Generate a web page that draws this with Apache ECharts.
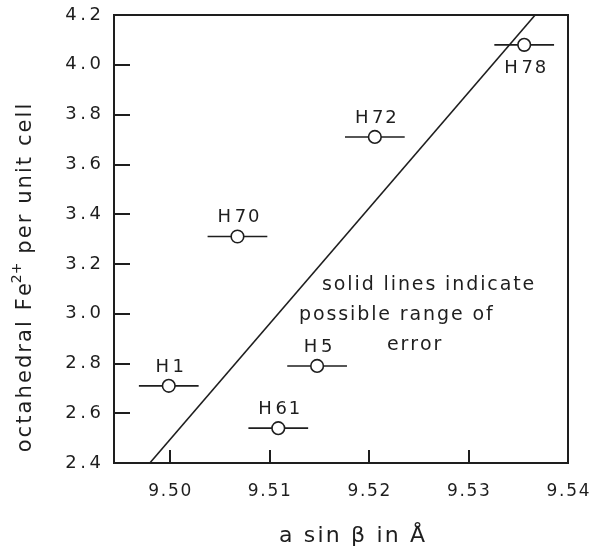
<!DOCTYPE html>
<html>
<head>
<meta charset="utf-8">
<script src="https://cdn.jsdelivr.net/npm/echarts@6/dist/echarts.min.js"></script>
<style>
html,body{margin:0;padding:0;background:#fff;}
#main{width:598px;height:557px;}
</style>
</head>
<body>
<div id="main"></div>
<script>
// ---- data ----
const sampleNames = ['H1', 'H5', 'H61', 'H70', 'H72', 'H78'];
const aSinBeta    = [9.4999, 9.5148, 9.5109, 9.5068, 9.5206, 9.5356];
const octFe2      = [2.71, 2.79, 2.54, 3.31, 3.71, 4.08];
const aSinBetaErr = [0.003, 0.003, 0.003, 0.003, 0.003, 0.003];
const trendLineX  = [9.4980, 9.5367];
const trendLineY  = [2.40, 4.20];
const xTickValues = [9.50, 9.51, 9.52, 9.53, 9.54];
const yTickValues = [2.4, 2.6, 2.8, 3.0, 3.2, 3.4, 3.6, 3.8, 4.0, 4.2];
const noteLines   = ['solid lines indicate', 'possible range of', 'error'];

const INK = '#1e1e1e';
const FONT = 'DejaVu Sans';
const HAIR = '\u200A', THIN = '\u2009';
const spread = (s, gap) => s.split('').join(gap);

const chart = echarts.init(document.getElementById('main'), null, {renderer: 'canvas'});

const pts = sampleNames.map((n, i) => [aSinBeta[i], octFe2[i], aSinBetaErr[i], n]);

const option = {
  backgroundColor: '#fff',
  animation: false,
  grid: {left: 114, top: 15, right: 30, bottom: 94, show: true, borderColor: INK, borderWidth: 2, backgroundColor: 'transparent'},
  xAxis: {
    type: 'value', min: 9.4944, max: 9.54,
    axisLine: {show: true, lineStyle: {color: INK, width: 2}},
    splitLine: {show: false},
    axisTick: {show: true, inside: true, length: 13, lineStyle: {color: INK, width: 2}, customValues: xTickValues.slice(0, 4)},
    axisLabel: {customValues: xTickValues, formatter: v => spread(v.toFixed(2), HAIR), color: INK, fontFamily: FONT, fontSize: 17, margin: 20, showMinLabel: true, showMaxLabel: true}
  },
  yAxis: {
    type: 'value', min: 2.4, max: 4.2, interval: 0.2,
    axisLine: {show: true, lineStyle: {color: INK, width: 2}},
    splitLine: {show: false},
    axisTick: {show: true, inside: true, length: 16, lineStyle: {color: INK, width: 2}, customValues: yTickValues.slice(1, -1)},
    axisLabel: {customValues: yTickValues, formatter: v => spread(v.toFixed(1), THIN), color: INK, fontFamily: FONT, fontSize: 18, margin: 13}
  },
  series: [
    {
      type: 'line',
      data: trendLineX.map((x, i) => [x, trendLineY[i]]),
      showSymbol: false, symbol: 'none',
      lineStyle: {color: INK, width: 1.6},
      clip: true, z: 2
    },
    {
      type: 'custom',
      data: pts,
      z: 3,
      renderItem: function (params, api) {
        const x = api.value(0), y = api.value(1), e = api.value(2);
        const name = pts[params.dataIndex][3];
        const c = api.coord([x, y]);
        const l = api.coord([x - e, y]);
        const r = api.coord([x + e, y]);
        const below = name === 'H78';
        return {
          type: 'group',
          children: [
            {type: 'line', shape: {x1: l[0], y1: l[1], x2: r[0], y2: r[1]}, style: {stroke: INK, lineWidth: 1.6}},
            {type: 'circle', shape: {cx: c[0], cy: c[1], r: 6.3}, style: {fill: '#fff', stroke: INK, lineWidth: 1.6}},
            {type: 'text', x: c[0] + 1, y: below ? c[1] + 23 : c[1] - 19,
             style: {text: 'H' + THIN + spread(name.slice(1), HAIR), fill: INK, font: '18px "' + FONT + '"', align: 'center', verticalAlign: 'middle'}}
          ]
        };
      }
    }
  ],
  graphic: [
    {type: 'text', x: 322, y: 285, style: {text: spread(noteLines[0], HAIR), fill: INK, font: '19px "' + FONT + '"', verticalAlign: 'middle'}},
    {type: 'text', x: 299, y: 315, style: {text: spread(noteLines[1], HAIR), fill: INK, font: '19px "' + FONT + '"', verticalAlign: 'middle'}},
    {type: 'text', x: 387, y: 345, style: {text: spread(noteLines[2], HAIR), fill: INK, font: '19px "' + FONT + '"', verticalAlign: 'middle'}},
    {type: 'text', x: 23, y: 278, rotation: Math.PI / 2,
     style: {
       text: '{n|' + spread('octahedral Fe', HAIR) + '}{s|2+}{n|' + spread(' per unit cell', HAIR) + '}',
       align: 'center', verticalAlign: 'middle',
       rich: {
         n: {fill: INK, fontFamily: FONT, fontSize: 21, verticalAlign: 'bottom'},
         s: {fill: INK, fontFamily: FONT, fontSize: 14, verticalAlign: 'top', padding: [0, 0, 12, 0]}
       }
     }},
    {type: 'text', x: 352, y: 536, style: {text: spread('a sin \u03B2 in \u00C5', HAIR), fill: INK, font: '22px "' + FONT + '"', align: 'center', verticalAlign: 'middle'}}
  ]
};
chart.setOption(option);
</script>
</body>
</html>
